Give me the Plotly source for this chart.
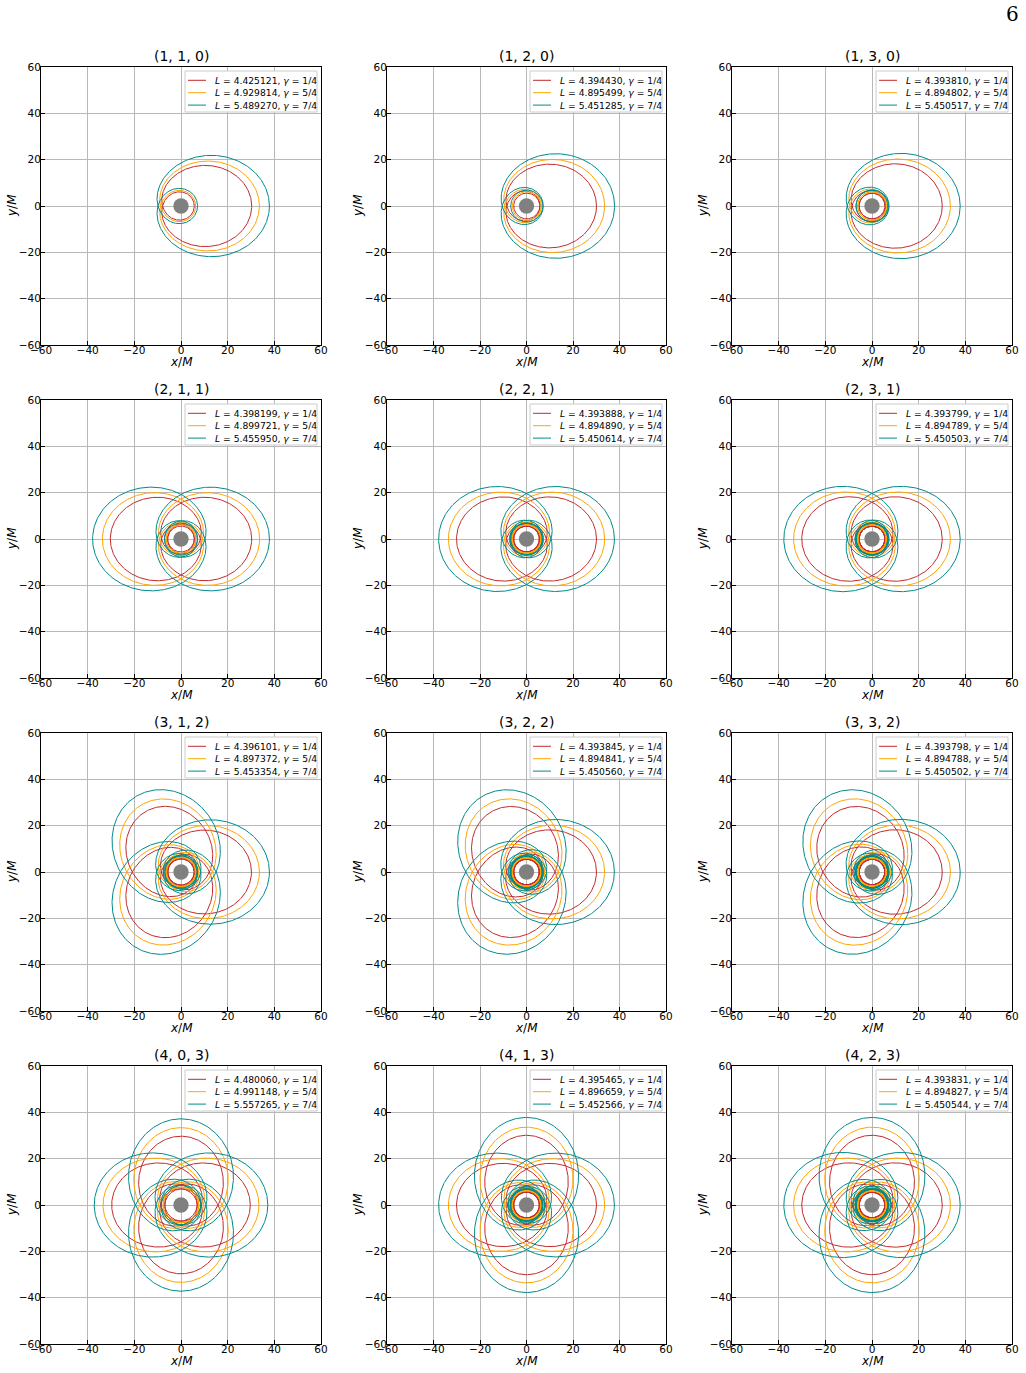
import numpy as np
import plotly.graph_objects as go

# ---------------- data ----------------
ORBIT_LABELS = [(1, 1, 0), (1, 2, 0), (1, 3, 0),
                (2, 1, 1), (2, 2, 1), (2, 3, 1),
                (3, 1, 2), (3, 2, 2), (3, 3, 2),
                (4, 0, 3), (4, 1, 3), (4, 2, 3)]
L_VALUES = [
    [4.425121, 4.929814, 5.489270],
    [4.394430, 4.895499, 5.451285],
    [4.393810, 4.894802, 5.450517],
    [4.398199, 4.899721, 5.455950],
    [4.393888, 4.894890, 5.450614],
    [4.393799, 4.894789, 5.450503],
    [4.396101, 4.897372, 5.453354],
    [4.393845, 4.894841, 5.450560],
    [4.393798, 4.894788, 5.450502],
    [4.480060, 4.991148, 5.557265],
    [4.395465, 4.896659, 5.452566],
    [4.393831, 4.894827, 5.450544],
]
GAMMA_LABELS = ["1/4", "5/4", "7/4"]
# apoapsis / periapsis radii (units of M)
APOAPSIS = [
    [30.3, 33.6, 37.9], [30.1, 33.6, 37.9], [30.1, 33.6, 37.8],
    [30.3, 33.7, 37.9], [30.1, 33.6, 37.8], [30.1, 33.6, 37.8],
    [30.2, 33.6, 37.9], [30.1, 33.6, 37.8], [30.1, 33.6, 37.8],
    [29.7, 33.4, 37.2], [30.1, 33.6, 37.8], [30.1, 33.6, 37.8],
]
PERIAPSIS = [
    [5.7, 6.3, 7.1], [5.5, 6.1, 6.8], [5.5, 6.1, 6.8],
    [5.6, 6.2, 6.9], [5.5, 6.1, 6.8], [5.5, 6.1, 6.8],
    [5.6, 6.2, 6.9], [5.5, 6.1, 6.8], [5.5, 6.1, 6.8],
    [6.8, 7.5, 8.3], [5.5, 6.1, 6.8], [5.5, 6.1, 6.8],
]
BH_RADIUS = 3.3
COLORS = ["#c42a2e", "#ffa500", "#008b8b"]
TICKS = [-60, -40, -20, 0, 20, 40, 60]

# ---------------- orbit model (relativistic precessing orbit) ----------------
CHI = np.linspace(-np.pi, np.pi, 200001)
COSCHI = np.cos(CHI)


def orbit(z, w, v, ra, rp, n_out=900):
    p = 2 * ra * rp / (ra + rp)
    e = (ra - rp) / (ra + rp)
    target = 2 * np.pi * (1 + w + v / z)
    denom = 6 + 2 * e * COSCHI

    def total(M):
        f = 1 / np.sqrt(1 - M * denom / p)
        return np.trapezoid(f, CHI), f

    lo, hi = 0.0, p / (6 + 2 * e)
    for _ in range(70):
        mid = 0.5 * (lo + hi)
        t, _f = total(mid)
        if t < target:
            lo = mid
        else:
            hi = mid
    _, f = total(lo)
    dchi = np.diff(CHI)
    phi = np.concatenate([[0.0], np.cumsum(0.5 * (f[1:] + f[:-1]) * dchi)])
    phi *= target / phi[-1]
    s = phi / target + (CHI + np.pi) / (2 * np.pi)
    ss = np.linspace(0, 2, n_out)
    chi_s = np.interp(ss, s, CHI)
    phi_s = np.interp(ss, s, phi)
    r_s = p / (1 + e * np.cos(chi_s))
    xs, ys = [], []
    for k in range(z):
        ph = phi_s + k * target
        sl = slice(0 if k == 0 else 1, None)
        xs.append((r_s * np.cos(ph))[sl])
        ys.append((r_s * np.sin(ph))[sl])
    return np.round(np.concatenate(xs), 3), np.round(np.concatenate(ys), 3)


# ---------------- layout geometry (pixels) ----------------
W, H = 1026, 1373
COL_X = [(41, 321), (387, 666), (732, 1012)]
ROW_Y = [(67, 345), (400, 678), (733, 1011), (1066, 1344)]


def px(xp):
    return xp / W


def py(yp):
    return 1 - yp / H


fig = go.Figure()
annotations = []
shapes = []
FONT = "DejaVu Sans"

for idx, (z, w, v) in enumerate(ORBIT_LABELS):
    row, col = divmod(idx, 3)
    ax = "" if idx == 0 else str(idx + 1)
    xa, ya = "x" + ax, "y" + ax
    x0, x1 = COL_X[col]
    y0, y1 = ROW_Y[row]
    for j in range(3):
        xs, ys = orbit(z, w, v, APOAPSIS[idx][j], PERIAPSIS[idx][j])
        fig.add_trace(go.Scatter(
            x=xs, y=ys, mode="lines",
            line=dict(color=COLORS[j], width=1),
            name="L = %.6f, γ = %s" % (L_VALUES[idx][j], GAMMA_LABELS[j]),
            xaxis=xa, yaxis=ya, showlegend=False, hoverinfo="skip"))
    axis_common = dict(range=[-60, 60], tickvals=TICKS, ticks="inside", ticklen=4,
                       tickcolor="black", showline=True, linecolor="black", linewidth=1,
                       mirror=True, showgrid=True, gridcolor="#b8b8b8", gridwidth=1,
                       zeroline=False, fixedrange=True, automargin=False,
                       tickfont=dict(family=FONT, size=10.5, color="black"))
    fig.update_layout(**{
        "xaxis" + ax: dict(domain=[px(x0), px(x1)], anchor=ya, ticklabelstandoff=-5,
                           **axis_common),
        "yaxis" + ax: dict(domain=[py(y1), py(y0)], anchor=xa, ticklabelstandoff=-3,
                           **axis_common),
    })
    shapes.append(dict(type="circle", xref=xa, yref=ya,
                       x0=-BH_RADIUS, x1=BH_RADIUS, y0=-BH_RADIUS, y1=BH_RADIUS,
                       fillcolor="#808080", line=dict(width=0), layer="above"))
    # legend box (drawn manually to match the compact reference legend)
    shapes.append(dict(type="rect", xref="paper", yref="paper",
                       x0=px(x1 - 136), x1=px(x1 - 4), y0=py(y0 + 45), y1=py(y0 + 4),
                       fillcolor="white", line=dict(color="#cccccc", width=1),
                       layer="above"))
    for j in range(3):
        yy = y0 + 13.3 + 12.4 * j
        shapes.append(dict(type="line", xref="paper", yref="paper",
                           x0=px(x1 - 133), x1=px(x1 - 115), y0=py(yy), y1=py(yy),
                           line=dict(color=COLORS[j], width=1), layer="above"))
        annotations.append(dict(
            text="<i>L</i> = %.6f, <i>γ</i> = %s" % (L_VALUES[idx][j], GAMMA_LABELS[j]),
            xref="paper", yref="paper", x=px(x1 - 108), y=py(yy),
            xanchor="left", yanchor="middle", showarrow=False,
            font=dict(family=FONT, size=9.2, color="black")))
    annotations.append(dict(text="(%d, %d, %d)" % (z, w, v), xref="paper", yref="paper",
                            x=px((x0 + x1) / 2), y=py(y0 - 1), xanchor="center",
                            yanchor="bottom", showarrow=False,
                            font=dict(family=FONT, size=14, color="black")))
    annotations.append(dict(text="<i>x</i>/<i>M</i>", xref="paper", yref="paper",
                            x=px((x0 + x1) / 2), y=py(y1 + 17), xanchor="center",
                            yanchor="middle", showarrow=False,
                            font=dict(family=FONT, size=12, color="black")))
    annotations.append(dict(text="<i>y</i>/<i>M</i>", xref="paper", yref="paper",
                            x=px(x0 - 29), y=py((y0 + y1) / 2), xanchor="center",
                            yanchor="middle", textangle=-90, showarrow=False,
                            font=dict(family=FONT, size=12, color="black")))

annotations.append(dict(text="6", xref="paper", yref="paper", x=px(1021), y=py(14),
                        xanchor="right", yanchor="middle", showarrow=False,
                        font=dict(family="DejaVu Serif", size=20, color="black")))

fig.update_layout(width=W, height=H, margin=dict(l=0, r=0, t=0, b=0, autoexpand=False),
                  paper_bgcolor="white", plot_bgcolor="white",
                  annotations=annotations, shapes=shapes, showlegend=False)

fig.write_html("out.html")
